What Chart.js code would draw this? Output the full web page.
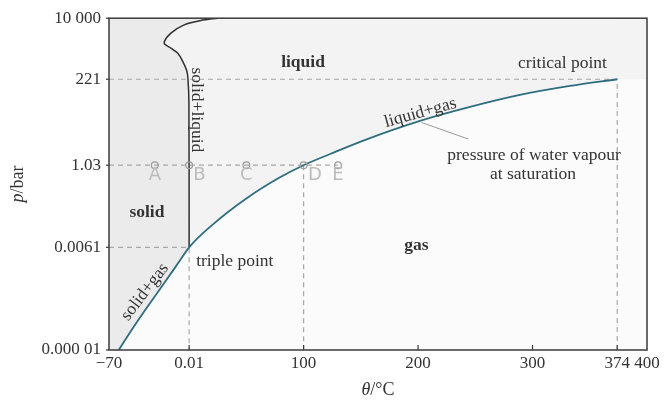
<!DOCTYPE html>
<html><head><meta charset="utf-8">
<script src="https://cdn.jsdelivr.net/npm/chart.js@4.4.1/dist/chart.umd.min.js"></script>
<style>html,body{margin:0;padding:0;background:#fff;}#wrap{width:664px;height:401px;}</style>
</head><body><div id="wrap"><canvas id="c" width="664" height="401"></canvas></div>
<script>
// ---- axis ticks ----
const xTicks = [-70, 0.01, 100, 200, 300, 374, 400];
const xTickLabels = ['\u221270', '0.01', '100', '200', '300', '374', '400'];
const yTicks = [0.00001, 0.0061, 1.03, 221, 10000];
const yTickLabels = ['0.000 01', '0.0061', '1.03', '221', '10 000'];

// ---- phase boundaries (theta in °C, p in bar) ----
const sublimationTheta = [-61.5, -48.5, -34.5, -20.5, -8.5, 0.01];
const sublimationP     = [1e-5, 4.2e-5, 1.8e-4, 7.4e-4, 2.55e-3, 0.0061];
const vapourTheta = [0.01, 21.1, 50.3, 79.4, 100, 123.1, 152.2, 201.7, 245.4, 289, 332.7, 374];
const vapourP     = [0.0061, 0.026, 0.1306, 0.483, 1.03, 2.07, 4.8, 16.4, 39.3, 83, 145, 221];
const meltTheta = [0.01, -0.2, -1.0, -2.0, -5.7, -10.1, -15.9, -21.8, -15.9, -4.3, 10.2, 25];
const meltP     = [0.0061, 57, 221, 370, 689, 1133, 1545, 2110, 3935, 6590, 8660, 10000];

// ---- reference points A..E ----
const pointNames = ['A', 'B', 'C', 'D', 'E'];
const pointTheta = [-30, 0.01, 50, 100, 130];
const pointP = [1.03, 1.03, 1.03, 1.03, 1.03];
const pointLabelTheta = [-30, 9, 50, 110, 130];
const pointLabelP = [0.537, 0.537, 0.537, 0.537, 0.537];

// ---- special values ----
const triple = {theta: 0.01, p: 0.0061};
const critical = {theta: 374, p: 221};
const normal = {theta: 100, p: 1.03};
const pointsEndTheta = 130;

// ---- annotations ----
const annoText  = ['liquid', 'solid', 'gas', 'critical point', 'triple point', 'pressure of water vapour', 'at saturation'];
const annoTheta = [99.5, -36.9, 198.6, 326.2, 39.9, 301.3, 300.4];
const annoP     = [647, 0.0537, 0.00689, 608, 0.00254, 1.86, 0.571];
const annoBold  = [true, true, true, false, false, false, false];
const rotText  = ['solid+liquid', 'liquid+gas', 'solid+gas'];
const rotTheta = [6.8, 202, -38.6];
const rotP     = [32.6, 27, 3.77e-4];
const rotDeg   = [90, -15.5, -52.6];
const leaderTheta = [203.2, 243.9];
const leaderP = [14.8, 5.27];

const SERIF = '"Liberation Serif", "Times New Roman", serif';
const SANS = '"DejaVu Sans", sans-serif';
const C_SOLID = '#ebebeb', C_LIQUID = '#f3f3f3', C_GAS = '#fbfbfb';
const C_TEAL = '#2e6d7e', C_TEXT = '#333333', C_DASH = '#a8a8a8';

const xy = (ts, ps) => ts.map((t, i) => ({x: t, y: ps[i]}));
const boilCurve = xy(sublimationTheta, sublimationP).concat(xy(vapourTheta.slice(1), vapourP.slice(1)));
const meltCurve = xy(meltTheta, meltP);
const solidPoly = [{x: -70, y: 10000}, {x: -70, y: 1e-5}]
  .concat(xy(sublimationTheta, sublimationP))
  .concat(xy(meltTheta.slice(1), meltP.slice(1)));

const dashed = (data) => ({data, borderColor: C_DASH, borderWidth: 1.2, borderDash: [5, 4],
  pointRadius: 0, fill: false, tension: 0, order: 10});

const datasets = [
  {data: boilCurve, fill: 'end', backgroundColor: C_LIQUID, borderWidth: 0, pointRadius: 0,
   cubicInterpolationMode: 'monotone', order: 20},
  {data: solidPoly, fill: 'shape', backgroundColor: C_SOLID, borderWidth: 0, pointRadius: 0,
   tension: 0, order: 19},
  dashed([{x: -70, y: critical.p}, {x: critical.theta, y: critical.p}, {x: critical.theta, y: 1e-5}]),
  dashed([{x: -70, y: normal.p}, {x: pointsEndTheta, y: normal.p}]),
  dashed([{x: normal.theta, y: normal.p}, {x: normal.theta, y: 1e-5}]),
  dashed([{x: -70, y: triple.p}, {x: triple.theta, y: triple.p}, {x: triple.theta, y: 1e-5}]),
  {data: xy(leaderTheta, leaderP), borderColor: '#9a9a9a', borderWidth: 1, pointRadius: 0, fill: false, order: 9},
  {data: boilCurve, borderColor: C_TEAL, borderWidth: 1.8, pointRadius: 0, fill: false,
   cubicInterpolationMode: 'monotone', order: 3},
  {data: meltCurve, borderColor: '#303030', borderWidth: 1.5, pointRadius: 0, fill: false,
   tension: 0.3, order: 3},
  {data: xy(pointTheta, pointP), showLine: false, pointRadius: 3.4, pointBorderWidth: 1.2,
   pointBorderColor: '#9c9c9c', pointBackgroundColor: 'rgba(0,0,0,0)', order: 1}
];

const decor = {
  id: 'decor',
  beforeDraw(chart) {
    const {ctx, chartArea: a, scales: {x, y}} = chart;
    ctx.save();
    ctx.fillStyle = C_GAS;
    ctx.fillRect(a.left, a.top, a.right - a.left, a.bottom - a.top);
    // supercritical region right of the critical point
    const cx = x.getPixelForValue(critical.theta), cy = y.getPixelForValue(critical.p);
    ctx.fillStyle = C_LIQUID;
    ctx.fillRect(cx - 1, a.top, a.right - cx + 1, cy - a.top);
    ctx.restore();
  },
  afterDatasetsDraw(chart) {
    const {ctx, chartArea: a, scales: {x, y}} = chart;
    ctx.save();
    ctx.fillStyle = '#bcbcbc';
    ctx.font = '18px ' + SANS;
    ctx.textAlign = 'center';
    ctx.textBaseline = 'middle';
    pointNames.forEach((n, i) => ctx.fillText(n, x.getPixelForValue(pointLabelTheta[i]), y.getPixelForValue(pointLabelP[i])));
    ctx.fillStyle = C_TEXT;
    annoText.forEach((t, i) => {
      ctx.font = (annoBold[i] ? 'bold ' : '') + '17.5px ' + SERIF;
      ctx.fillText(t, x.getPixelForValue(annoTheta[i]), y.getPixelForValue(annoP[i]));
    });
    ctx.font = '17.5px ' + SERIF;
    rotText.forEach((t, i) => {
      ctx.save();
      ctx.translate(x.getPixelForValue(rotTheta[i]), y.getPixelForValue(rotP[i]));
      ctx.rotate(rotDeg[i] * Math.PI / 180);
      ctx.fillText(t, 0, 0);
      ctx.restore();
    });
    ctx.strokeStyle = '#3a3a3a';
    ctx.lineWidth = 1.5;
    ctx.strokeRect(a.left, a.top, a.right - a.left, a.bottom - a.top);
    ctx.lineWidth = 1.2;
    x.ticks.forEach((t, i) => {
      if (i === 0 || i === x.ticks.length - 1) return;
      const px = x.getPixelForValue(t.value);
      ctx.beginPath(); ctx.moveTo(px, a.bottom); ctx.lineTo(px, a.bottom - 5); ctx.stroke();
    });
    y.ticks.forEach((t) => {
      const py = y.getPixelForValue(t.value);
      ctx.beginPath(); ctx.moveTo(a.left, py); ctx.lineTo(a.left - 3, py); ctx.stroke();
    });
    const drawMixed = (parts, cx, cy, rot) => {
      ctx.save();
      ctx.translate(cx, cy);
      ctx.rotate(rot);
      ctx.textAlign = 'left';
      ctx.textBaseline = 'middle';
      let w = 0;
      parts.forEach(p => { ctx.font = p.f; w += ctx.measureText(p.t).width; });
      let cur = -w / 2;
      parts.forEach(p => { ctx.font = p.f; ctx.fillText(p.t, cur, 0); cur += ctx.measureText(p.t).width; });
      ctx.restore();
    };
    ctx.fillStyle = C_TEXT;
    drawMixed([{t: 'p', f: 'italic 18px ' + SERIF}, {t: '/bar', f: '18px ' + SERIF}], 18, (a.top + a.bottom) / 2, -Math.PI / 2);
    drawMixed([{t: '\u03b8', f: 'italic 18px ' + SERIF}, {t: '/\u00b0C', f: '18px ' + SERIF}], (a.left + a.right) / 2, 390, 0);
    ctx.restore();
  }
};

new Chart(document.getElementById('c'), {
  type: 'line',
  data: {datasets},
  options: {
    responsive: false,
    animation: false,
    devicePixelRatio: 1,
    layout: {padding: {top: 17, right: 17, left: 0, bottom: 0}},
    plugins: {legend: {display: false}, tooltip: {enabled: false}},
    scales: {
      x: {
        type: 'linear', min: -70, max: 400,
        grid: {display: false, drawTicks: false}, border: {display: false},
        ticks: {autoSkip: false, maxRotation: 0, padding: 3, color: C_TEXT,
                font: {family: SERIF, size: 17}, callback: (v, i) => xTickLabels[i]},
        afterBuildTicks: s => { s.ticks = xTicks.map(v => ({value: v})); },
        afterFit: s => { s.height = 51; }
      },
      y: {
        type: 'logarithmic', min: 1e-5, max: 1e4,
        grid: {display: false, drawTicks: false}, border: {display: false},
        ticks: {autoSkip: false, padding: 8, color: C_TEXT,
                font: {family: SERIF, size: 17}, callback: (v, i) => yTickLabels[i]},
        afterBuildTicks: s => { s.ticks = yTicks.map(v => ({value: v})); },
        afterFit: s => { s.width = 109; }
      }
    }
  },
  plugins: [decor]
});
</script></body></html>
